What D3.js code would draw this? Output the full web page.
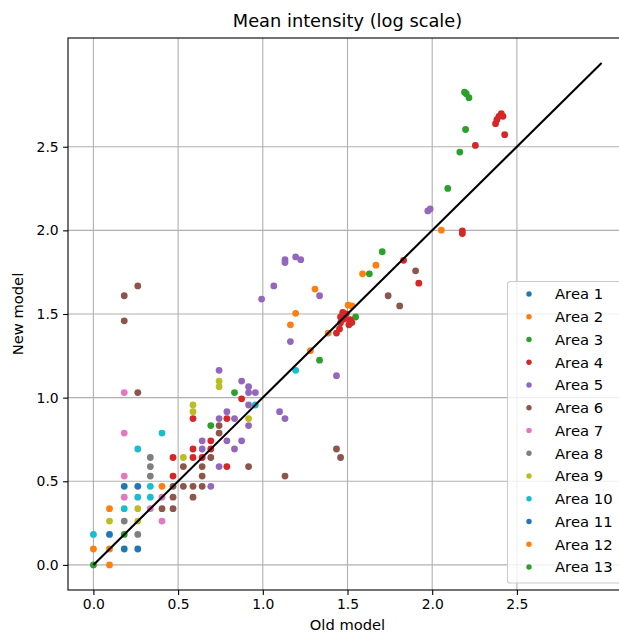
<!DOCTYPE html>
<html>
<head>
<meta charset="utf-8">
<script src="https://cdn.jsdelivr.net/npm/d3@7/dist/d3.min.js"></script>
<style>
  html, body { margin: 0; padding: 0; background: #ffffff; }
  svg { display: block; }
  text { font-family: "DejaVu Sans", sans-serif; fill: #000; }
</style>
</head>
<body>
<svg id="chart" width="619" height="632"></svg>
<script>
// Mean intensity per area: [old model, new model], both on a log scale
const area1  = [[0.095,0.182],[0.262,0.095]];
const area2  = [[2.054,2.001],[1.668,1.792],[1.589,1.740],[1.308,1.649],[1.194,1.504],[1.163,1.435],
                [1.526,1.548],[1.504,1.553],[1.386,1.386],[1.281,1.281]];
const area3  = [[1.335,1.224],[1.548,1.482],[1.629,1.740],[1.705,1.872],[2.092,2.251],[2.163,2.468],
                [2.197,2.603],[2.191,2.826],[2.201,2.817],[2.217,2.793]];
const area4  = [[0.470,0.642],[0.470,0.531],[0.588,0.875],[0.588,0.693],[0.588,0.642],[0.642,0.642],
                [0.693,0.742],[0.693,0.693],[0.788,0.875],[0.788,0.588],[0.875,0.993],
                [1.472,1.510],[1.493,1.501],[1.459,1.482],[1.482,1.470],[1.516,1.466],[1.526,1.449],
                [1.508,1.435],[1.459,1.447],[1.453,1.411],[1.435,1.386],
                [1.831,1.821],[1.921,1.684],[2.178,1.997],[2.178,1.981],[2.255,2.508],[2.428,2.572],
                [2.374,2.638],[2.382,2.662],[2.394,2.682],[2.408,2.697],[2.418,2.682]];
const area5  = [[0.642,0.742],[0.642,0.693],[0.693,0.470],[0.742,0.875],[0.742,0.588],[0.742,1.163],
                [0.788,0.916],[0.788,0.742],[0.833,0.875],[0.833,0.693],[0.875,1.099],[0.875,0.742],
                [0.916,1.065],[0.916,1.030],[0.956,1.030],[0.916,0.956],[0.916,0.833],
                [0.993,1.589],[1.065,1.668],[1.131,1.825],[1.131,1.808],[1.194,1.841],[1.224,1.825],
                [1.335,1.609],[1.163,1.335],[1.435,1.131],[1.099,0.916],[1.131,0.875],
                [1.974,2.116],[1.988,2.128]];
const area6  = [[0.262,1.030],[0.182,1.609],[0.262,1.668],[0.182,1.459],[0.405,0.336],[0.470,0.336],
                [0.470,0.470],[0.470,0.405],[0.531,0.470],[0.531,0.588],[0.588,0.470],[0.588,0.405],
                [0.642,0.470],[0.642,0.531],[0.642,0.588],[0.693,0.642],[0.742,0.833],[0.742,0.788],
                [0.916,0.588],[1.131,0.531],[1.435,0.693],[1.459,0.642],[1.740,1.609],[1.808,1.548],
                [1.902,1.758]];
const area7  = [[0.182,1.030],[0.182,0.788],[0.182,0.531],[0.182,0.405],[0.336,0.336],[0.405,0.405],
                [0.405,0.262]];
const area8  = [[0.182,0.262],[0.262,0.182],[0.336,0.642],[0.336,0.588],[0.336,0.531]];
const area9  = [[0.095,0.262],[0.262,0.336],[0.262,0.262],[0.531,0.642],[0.588,0.956],[0.588,0.916],
                [0.742,1.099],[0.742,1.065],[0.916,0.875]];
const area10 = [[0,0.182],[0.182,0.336],[0.262,0.405],[0.336,0.405],[0.336,0.470],[0.262,0.693],
                [0.405,0.788],[0.956,0.956],[1.194,1.163]];
const area11 = [[0.182,0.095],[0.182,0.470],[0.262,0.470]];
const area12 = [[0,0.095],[0.095,0.095],[0.095,0],[0.095,0.336],[0.405,0.470]];
const area13 = [[0,0],[0.182,0.182],[0.693,0.833],[0.833,1.030]];

const areaNames = ["Area 1","Area 2","Area 3","Area 4","Area 5","Area 6","Area 7",
                   "Area 8","Area 9","Area 10","Area 11","Area 12","Area 13"];
const areaData = [area1, area2, area3, area4, area5, area6, area7,
                  area8, area9, area10, area11, area12, area13];
const areaColors = ["#1f77b4","#ff7f0e","#2ca02c","#d62728","#9467bd","#8c564b","#e377c2",
                    "#7f7f7f","#bcbd22","#17becf","#1f77b4","#ff7f0e","#2ca02c"];

const xTicks = [0, 0.5, 1.0, 1.5, 2.0, 2.5];
const yTicks = [0, 0.5, 1.0, 1.5, 2.0, 2.5];
const identityLine = [[0, 0], [3, 3]];

const titleText = "Mean intensity (log scale)";
const xLabelText = "Old model";
const yLabelText = "New model";

const svg = d3.select("#chart");
const plotLeft = 68, plotRight = 627, plotTop = 38, plotBottom = 590;

const x = d3.scaleLinear().domain([-0.15, 3.15]).range([plotLeft, plotRight]);
const y = d3.scaleLinear().domain([-0.15, 3.15]).range([plotBottom, plotTop]);

// plotting area clip
svg.append("defs").append("clipPath").attr("id", "plotClip")
  .append("rect").attr("x", plotLeft).attr("y", plotTop)
  .attr("width", plotRight - plotLeft).attr("height", plotBottom - plotTop);

// grid lines
const grid = svg.append("g");
grid.selectAll("line.gx").data(xTicks).enter().append("line")
  .attr("x1", d => x(d)).attr("x2", d => x(d))
  .attr("y1", plotTop).attr("y2", plotBottom)
  .attr("stroke", "#b0b0b0").attr("stroke-width", 1.1);
grid.selectAll("line.gy").data(yTicks).enter().append("line")
  .attr("x1", plotLeft).attr("x2", plotRight)
  .attr("y1", d => y(d)).attr("y2", d => y(d))
  .attr("stroke", "#b0b0b0").attr("stroke-width", 1.1);

// points, one group per area
const plot = svg.append("g").attr("clip-path", "url(#plotClip)");
areaData.forEach((pts, i) => {
  plot.append("g").selectAll("circle").data(pts).enter().append("circle")
    .attr("cx", d => x(d[0])).attr("cy", d => y(d[1]))
    .attr("r", 3.4).attr("fill", areaColors[i]);
});

// identity line
plot.append("path")
  .datum(identityLine)
  .attr("d", d3.line().x(d => x(d[0])).y(d => y(d[1])))
  .attr("fill", "none").attr("stroke", "#000").attr("stroke-width", 2.1);

// axes
const xAxis = d3.axisBottom(x).tickValues(xTicks).tickFormat(d3.format(".1f"))
  .tickSize(4.9).tickPadding(4.4).tickSizeOuter(0);
const yAxis = d3.axisLeft(y).tickValues(yTicks).tickFormat(d3.format(".1f"))
  .tickSize(4.9).tickPadding(4.4).tickSizeOuter(0);

const gx = svg.append("g").attr("transform", `translate(0,${plotBottom})`).call(xAxis);
const gy = svg.append("g").attr("transform", `translate(${plotLeft},0)`).call(yAxis);
[gx, gy].forEach(g => {
  g.select(".domain").remove();
  g.selectAll(".tick line").attr("stroke", "#000").attr("stroke-width", 1.1);
  g.selectAll(".tick text").attr("font-size", "13.9px")
    .attr("font-family", "DejaVu Sans").attr("fill", "#000");
});

// spines
svg.append("rect").attr("x", plotLeft).attr("y", plotTop)
  .attr("width", plotRight - plotLeft).attr("height", plotBottom - plotTop)
  .attr("fill", "none").attr("stroke", "#000").attr("stroke-width", 1.1);

// title and axis labels
svg.append("text").attr("x", (plotLeft + plotRight) / 2).attr("y", 27)
  .attr("text-anchor", "middle").attr("font-size", "17.8px").text(titleText);
svg.append("text").attr("x", (plotLeft + plotRight) / 2).attr("y", 630)
  .attr("text-anchor", "middle").attr("font-size", "14.7px").text(xLabelText);
svg.append("text")
  .attr("transform", `translate(23,${(plotTop + plotBottom) / 2}) rotate(-90)`)
  .attr("text-anchor", "middle").attr("font-size", "14.7px").text(yLabelText);

// legend
const legend = svg.append("g");
legend.append("rect")
  .attr("x", 507.5).attr("y", 281.5).attr("width", 116).attr("height", 301.5)
  .attr("rx", 2.8).attr("ry", 2.8)
  .attr("fill", "#ffffff").attr("fill-opacity", 0.8)
  .attr("stroke", "#cccccc").attr("stroke-width", 1.1);
const rows = legend.selectAll("g.row").data(areaNames).enter().append("g")
  .attr("transform", (d, i) => `translate(0,${294 + i * 22.75})`);
rows.append("circle").attr("cx", 529).attr("cy", 0).attr("r", 2.7)
  .attr("fill", (d, i) => areaColors[i]);
rows.append("text").attr("x", 555).attr("y", 0).attr("dy", "0.36em")
  .attr("font-size", "14.8px").text(d => d);
</script>
</body>
</html>
